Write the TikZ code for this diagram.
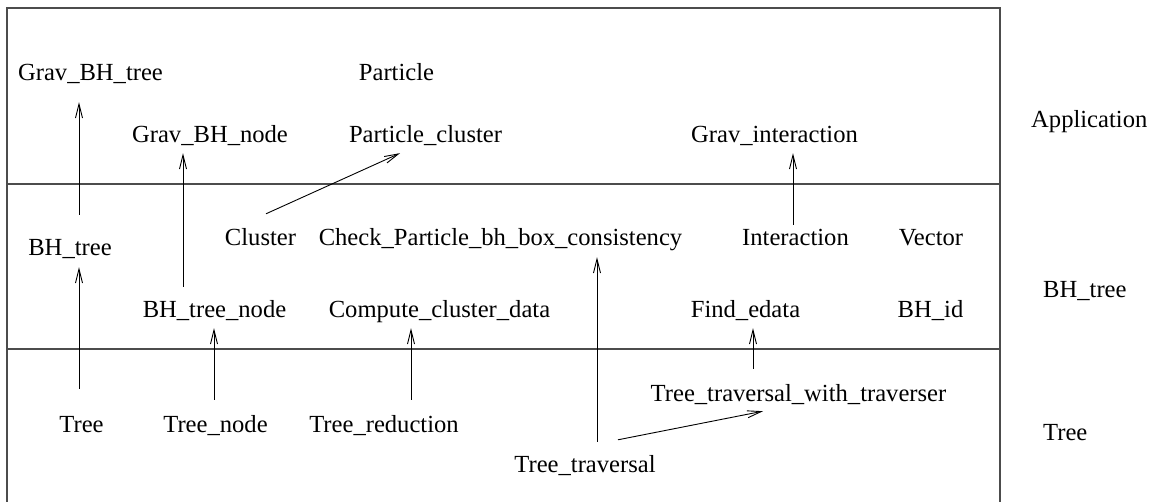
\documentclass[tikz,border=0pt]{standalone}
\usepackage{fontspec}
\setmainfont{Liberation Serif}
\usetikzlibrary{arrows.meta,calc}

\tikzset{
  cls/.style={inner sep=0pt, anchor=base, text height=17pt, text depth=5pt, font=\fontsize{24.6}{28}\selectfont},
  layer/.style={cls, anchor=base west},
  frame/.style={line width=1.3pt, black!70},
  dep/.style={line width=0.9pt, -{Straight Barb[length=14pt,width=7pt,line width=0.9pt]}}
}

\begin{document}
\begin{tikzpicture}[x=1pt,y=-1pt]
\useasboundingbox (0,0) rectangle (1171,502);

% Layer frame
\draw[frame] (7,502) -- (7,8) -- (1000,8) -- (1000,502);
\draw[frame] (7,184) -- (1000,184);
\draw[frame] (7,349) -- (1000,349);

% Application layer
\node[cls] (gbt) at (90.5,81) {Grav\_BH\_tree};
\node[cls] (part) at (396.5,81) {Particle};
\node[cls] (gbn) at (210,143) {Grav\_BH\_node};
\node[cls] (pcl) at (425.5,143) {Particle\_cluster};
\node[cls] (gint) at (774.5,143) {Grav\_interaction};

% BH_tree layer
\node[cls] (bht) at (70,256) {BH\_tree};
\node[cls] (clu) at (260.5,246) {Cluster};
\node[cls] (chk) at (500.5,246) {Check\_Particle\_bh\_box\_consistency};
\node[cls] (inter) at (795.5,246) {Interaction};
\node[cls] (vec) at (931,246) {Vector};
\node[cls] (btn) at (214.5,318) {BH\_tree\_node};
\node[cls] (ccd) at (439.5,318) {Compute\_cluster\_data};
\node[cls] (fed) at (745.5,318) {Find\_edata};
\node[cls] (bid) at (930.5,318) {BH\_id};

% Tree layer
\node[cls] (tree) at (81.5,433) {Tree};
\node[cls] (tnode) at (215.5,433) {Tree\_node};
\node[cls] (tred) at (384,433) {Tree\_reduction};
\node[cls] (ttw) at (798.5,402) {Tree\_traversal\_with\_traverser};
\node[cls] (ttr) at (585,473) {Tree\_traversal};

% layer names
\node[layer] (lapp) at (1031,128) {Application};
\node[layer] (lbh) at (1043,298) {BH\_tree};
\node[layer] (ltree) at (1043,441) {Tree};

% dependencies
\draw[dep] ($(bht.north)+(9,-24)$) -- ($(gbt.south)+(-11.5,16)$);
\draw[dep] ($(btn.north)+(-31.5,-14)$) -- ($(gbn.south)+(-27,5)$);
\draw[dep] ($(clu.north)+(5.5,-15)$) -- ($(pcl.south)+(-25.5,5)$);
\draw[dep] ($(inter.north)+(-2.5,-4)$) -- ($(gint.south)+(18.5,5)$);
\draw[dep] ($(tree.north)+(-2.5,-27)$) -- ($(bht.south)+(9,6)$);
\draw[dep] ($(tnode.north)+(-1.5,-16)$) -- ($(btn.south)+(-0.5,5)$);
\draw[dep] ($(tred.north)+(27,-16)$) -- ($(ccd.south)+(-28.5,5)$);
\draw[dep] ($(ttr.north)+(12,-14)$) -- ($(chk.south)+(96.5,6)$);
\draw[dep] ($(ttw.north)+(-45.5,-16)$) -- ($(fed.south)+(7.5,5)$);
\draw[dep] ($(ttr.north)+(33,-16)$) -- ($(ttw.south)+(-35.5,4)$);

\end{tikzpicture}
\end{document}
